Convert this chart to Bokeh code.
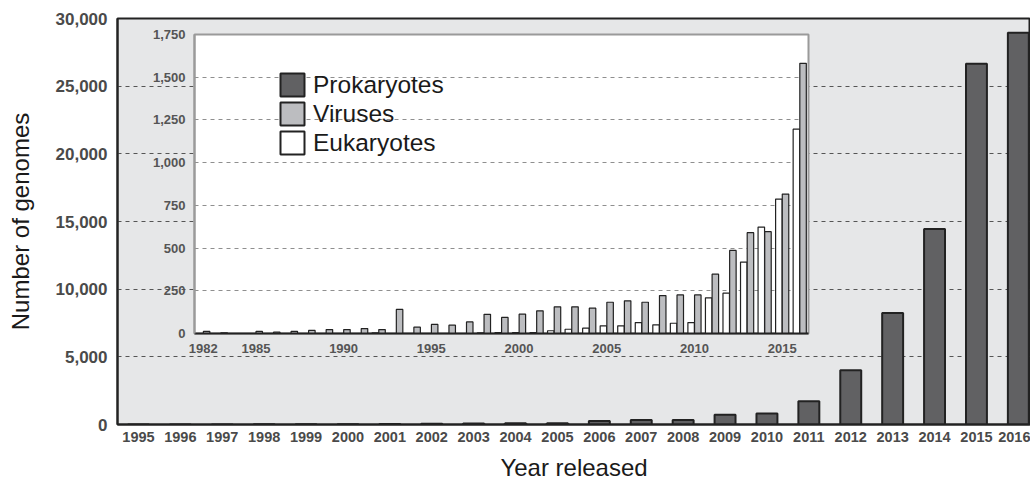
from bokeh.plotting import figure
from bokeh.models import (Range1d, FixedTicker, NumeralTickFormatter, Legend, LegendItem,
                          ColumnDataSource, GridBox, Spacer)
from bokeh.layouts import column, row
from bokeh.transform import dodge
from bokeh.embed import file_html
from bokeh.resources import INLINE

# ---- data ----
main_years = list(range(1995, 2017))
prokaryotes = [2, 3, 6, 10, 15, 25, 40, 55, 70, 90, 100, 250, 330, 330, 720, 820,
               1720, 4000, 8230, 14450, 26650, 28950]
main_y_ticks = [0, 5000, 10000, 15000, 20000, 25000, 30000]

inset_years = list(range(1982, 2017))
viruses = [12, 4, 0, 12, 8, 12, 18, 23, 23, 29, 23, 141, 37, 53, 49, 68, 112, 94, 113,
           133, 156, 156, 148, 183, 191, 183, 222, 226, 226, 347, 486, 590, 596, 816, 1581]
eukaryotes = [0, 0, 0, 0, 0, 0, 0, 0, 0, 0, 4, 0, 0, 0, 0, 0, 4, 5, 5, 5, 16, 25, 31,
              45, 45, 64, 51, 60, 64, 209, 236, 418, 623, 787, 1196]
inset_y_ticks = [0, 250, 500, 750, 1000, 1250, 1500, 1750]
inset_x_ticks = [1982, 1985, 1990, 1995, 2000, 2005, 2010, 2015]
legend_labels = ["Prokaryotes", "Viruses", "Eukaryotes"]

PRO = "#616163"
VIR = "#bcbdc0"
EUK = "#ffffff"
EDGE = "#222222"
FONT = "Liberation Sans"

# ---- main figure ----
p = figure(frame_width=913, frame_height=406,
           x_range=Range1d(1994.5, 2016.29), y_range=Range1d(0, 30000),
           output_backend="svg", toolbar_location=None,
           min_border_left=117, min_border_top=18, min_border_right=0, min_border_bottom=0,
           background_fill_color="#e6e7e8", border_fill_color="white",
           outline_line_color=EDGE, outline_line_width=2)
p.margin = (0, 0, 0, 0)

p.vbar(x=main_years, top=prokaryotes, width=0.5, fill_color=PRO,
       line_color=EDGE, line_width=2)

p.xgrid.visible = False
p.ygrid.grid_line_color = "#555555"
p.ygrid.grid_line_dash = "4 4"
p.ygrid.grid_line_width = 1

p.yaxis.ticker = FixedTicker(ticks=main_y_ticks)
p.yaxis.formatter = NumeralTickFormatter(format="0,0")
p.xaxis.ticker = FixedTicker(ticks=main_years)
for ax in (p.xaxis[0], p.yaxis[0]):
    ax.axis_line_color = EDGE
    ax.axis_line_width = 2
    ax.major_tick_line_color = None
    ax.minor_tick_line_color = None
    ax.major_label_text_font = FONT
    ax.major_label_text_font_style = "bold"
    ax.major_label_text_color = "#4a4a4a"
    ax.axis_label_text_font = FONT
    ax.axis_label_text_font_style = "normal"
    ax.axis_label_text_font_size = "24px"
    ax.axis_label_text_color = "#1a1a1a"

p.yaxis.major_label_text_font_size = "17px"
p.yaxis.major_label_standoff = 4
p.yaxis.axis_label = "Number of genomes"
p.yaxis.axis_label_standoff = 19

p.xaxis.major_label_text_font_size = "14.5px"
p.xaxis.major_label_standoff = 1
p.xaxis.axis_label = "Year released"
p.xaxis.axis_label_standoff = 9

# ---- inset figure ----
pi = figure(width=684, height=339,
            x_range=Range1d(1981.5, 2016.5), y_range=Range1d(0, 1750),
            output_backend="svg", toolbar_location=None,
            min_border_left=60, min_border_top=10, min_border_right=10, min_border_bottom=30,
            background_fill_color="white", border_fill_color=None,
            outline_line_color="#9a9a9a", outline_line_width=2)
pi.margin = (0, 0, 0, 0)

src = ColumnDataSource(data=dict(year=inset_years, viruses=viruses, eukaryotes=eukaryotes))
pi.vbar(x=dodge("year", -0.19, range=pi.x_range), top="eukaryotes", width=0.37,
        source=src, fill_color=EUK, line_color=EDGE, line_width=1.2)
pi.vbar(x=dodge("year", 0.19, range=pi.x_range), top="viruses", width=0.37,
        source=src, fill_color=VIR, line_color=EDGE, line_width=1.2)

pi.xgrid.visible = False
pi.ygrid.grid_line_color = "#8f8f8f"
pi.ygrid.grid_line_dash = "4 4"
pi.ygrid.grid_line_width = 1

pi.yaxis.ticker = FixedTicker(ticks=inset_y_ticks)
pi.yaxis.formatter = NumeralTickFormatter(format="0,0")
pi.xaxis.ticker = FixedTicker(ticks=inset_x_ticks)
pi.xaxis.formatter = NumeralTickFormatter(format="0")
for ax in (pi.xaxis[0], pi.yaxis[0]):
    ax.axis_line_width = 2
    ax.major_tick_line_color = None
    ax.minor_tick_line_color = None
    ax.major_label_text_font = FONT
    ax.major_label_text_font_style = "bold"
    ax.major_label_text_font_size = "13px"
    ax.major_label_text_color = "#555555"
pi.yaxis.axis_line_color = "#9a9a9a"
pi.xaxis.axis_line_color = EDGE
pi.yaxis.major_label_standoff = 3
pi.xaxis.major_label_standoff = 4

# legend swatches: hidden renderers that only lend their style to the legend
swatch_src = [dict(x=main_years, top=prokaryotes),
              dict(x=inset_years, top=viruses),
              dict(x=inset_years, top=eukaryotes)]
swatch_colors = [PRO, VIR, EUK]
items = []
for lab, col, d in zip(legend_labels, swatch_colors, swatch_src):
    r = pi.vbar(x=d["x"], top=d["top"], width=0.37, fill_color=col,
                line_color=EDGE, line_width=2, visible=False)
    items.append(LegendItem(label=lab, renderers=[r]))

leg = Legend(items=items, location=(83, 176), glyph_width=30, glyph_height=29,
             label_text_font=FONT, label_text_font_size="24.5px", label_text_color="#1a1a1a",
             label_standoff=6, spacing=0, padding=0, margin=0,
             border_line_color=None, background_fill_alpha=0,
             inactive_fill_alpha=0)
pi.add_layout(leg)

inset_box = column(Spacer(width=10, height=24),
                   row(Spacer(width=134, height=10), pi))

layout = GridBox(children=[(p, 0, 0), (inset_box, 0, 0)])

open("out.html", "w").write(file_html(layout, INLINE))
